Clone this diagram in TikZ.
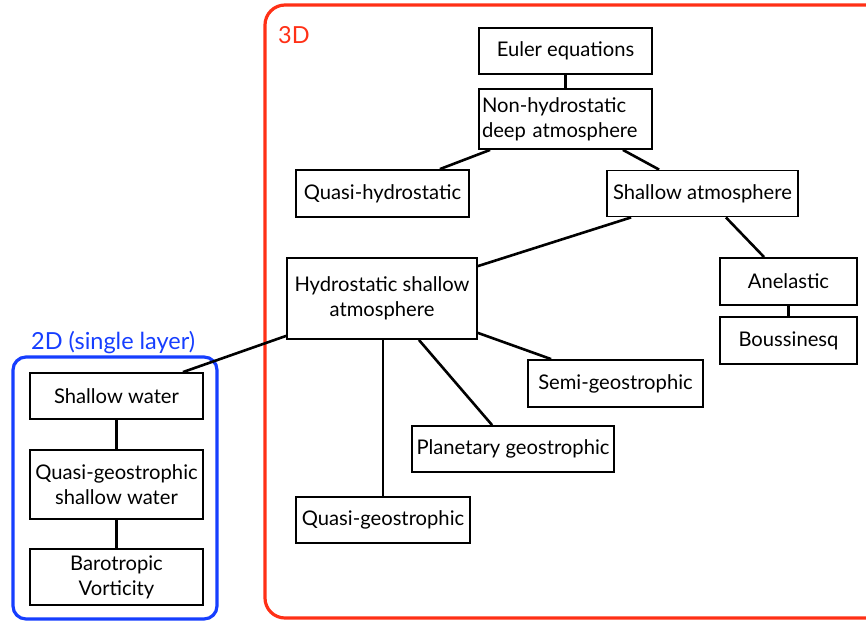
\documentclass[tikz,border=0pt]{standalone}
\usepackage{fontspec}
\setmainfont{Lato}
\definecolor{frameRed}{RGB}{255,48,22}
\definecolor{frameBlue}{RGB}{22,62,255}
\tikzset{
  model/.style={draw=black, line width=1.8pt, fill=white, inner sep=0pt,
    align=center, font=\fontsize{20.2}{25}\selectfont},
  link/.style={line width=2.6pt, line cap=butt},
  group/.style={line width=3.2pt, rounded corners=#1},
  grouplabel/.style={anchor=base west, inner sep=0pt, font=\fontsize{23.5}{27}\selectfont},
}
\begin{document}
\begin{tikzpicture}[x=1pt, y=-1pt]
  \useasboundingbox (0,0) rectangle (866,621);
  \clip (0,0) rectangle (866,621);

  % group frames
  \draw[group=20pt, frameRed] (265,5) rectangle (920,618);
  \draw[group=13pt, frameBlue] (13,357) rectangle (217,619);
  \node[grouplabel, text=frameRed] (lab3d) at (278,43) {3D};
  \node[grouplabel, text=frameBlue] (lab2d) at (31,349) {2D (single layer)};

  % three-dimensional models
  \node[model, minimum width=173pt, minimum height=46pt] (euler) at (565.5,51) {Euler equations};
  \node[model, minimum width=173pt, minimum height=60pt, text width=167pt, align=left]
    (nonhyd) at (565.5,119) {Non-hydrostatic\\deep atmosphere};
  \node[model, minimum width=173pt, minimum height=47pt] (quasihyd) at (382.5,193.5) {Quasi-hydrostatic};
  \node[model, minimum width=191pt, minimum height=46pt] (shallowatm) at (702.5,193.5) {Shallow atmosphere};
  \node[model, minimum width=190pt, minimum height=81pt] (hydro) at (382,298.5) {Hydrostatic shallow\\atmosphere};
  \node[model, minimum width=137pt, minimum height=47pt] (anelastic) at (788.5,281.5) {Anelastic};
  \node[model, minimum width=137pt, minimum height=47pt] (bouss) at (788.5,340.5) {Boussinesq};
  \node[model, minimum width=175pt, minimum height=47pt] (semi) at (615.5,383.5) {Semi-geostrophic};
  \node[model, minimum width=202pt, minimum height=46pt] (planet) at (513,449) {Planetary geostrophic};
  \node[model, minimum width=174pt, minimum height=46pt] (qgeo) at (383,520) {Quasi-geostrophic};

  % single-layer models
  \node[model, minimum width=173pt, minimum height=46pt] (sw) at (116.5,396) {Shallow water};
  \node[model, minimum width=173pt, minimum height=69pt] (qgsw) at (116.5,484.5) {Quasi-geostrophic\\shallow water};
  \node[model, minimum width=173pt, minimum height=56pt] (baro) at (116.5,577) {Barotropic\\Vorticity};

  % connectors
  \draw[link] (euler.south) -- (nonhyd.north);
  \draw[link] ([xshift=12pt]nonhyd.south west) -- ([xshift=-30pt]quasihyd.north east);
  \draw[link] ([xshift=-30pt]nonhyd.south east) -- ([xshift=53pt]shallowatm.north west);
  \draw[link] ([xshift=25pt]shallowatm.south west) -- ([yshift=-9pt]hydro.north east);
  \draw[link] ([xshift=-73pt]shallowatm.south east) -- ([xshift=45pt]anelastic.north west);
  \draw[link] (anelastic.south) -- (bouss.north);
  \draw[link] ([xshift=1pt]hydro.south) -- (qgeo.north);
  \draw[link] ([xshift=-59pt]hydro.south east) -- ([xshift=81pt]planet.north west);
  \draw[link] ([yshift=7pt]hydro.south east) -- ([xshift=24pt]semi.north west);
  \draw[link] ([xshift=-21pt]sw.north east) -- ([yshift=4pt]hydro.south west);
  \draw[link] (sw.south) -- (qgsw.north);
  \draw[link] (qgsw.south) -- (baro.north);
\end{tikzpicture}
\end{document}
